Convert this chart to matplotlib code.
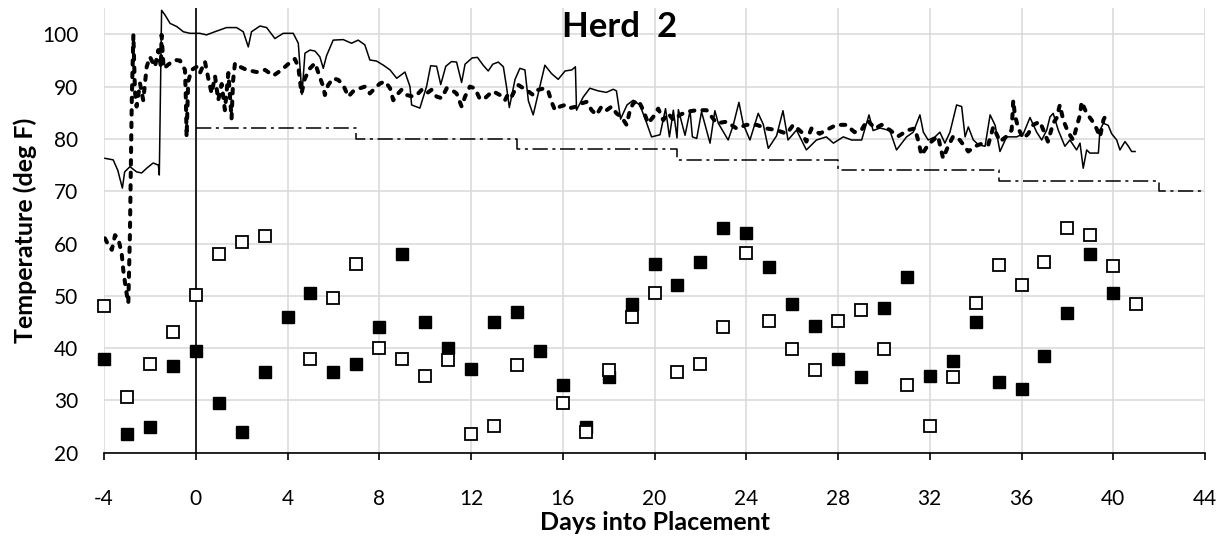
import matplotlib
matplotlib.use("Agg")
import matplotlib.pyplot as plt

# barn temperature logger (solid) and second logger (dashed), deg F
air_days = [-3.96, -3.6, -3.4, -3.2, -3.1, -2.87, -2.58, -2.36, -2.14, -1.86, -1.63, -1.59,
            -1.49, -1.34, -1.12, -0.83, -0.54, -0.25, 0.18, 0.47, 0.83, 1.34, 1.78, 2.07,
            2.29, 2.43, 2.8, 3.09, 3.45, 3.81, 4.25, 4.47, 4.63, 4.76, 4.98, 5.2, 5.41,
            5.56, 5.7, 5.99, 6.43, 6.79, 7.08, 7.37, 7.59, 7.88, 8.18, 8.47, 8.76, 9.12,
            9.34, 9.41, 9.77, 10.06, 10.24, 10.5, 10.68, 10.9, 11.15, 11.37, 11.59, 11.74,
            12.05, 12.28, 12.53, 12.75, 12.95, 13.19, 13.41, 13.55, 13.67, 13.92, 14.13,
            14.35, 14.5, 14.71, 14.93, 15.22, 15.51, 15.8, 16.1, 16.39, 16.55, 16.6, 16.89,
            17.18, 17.54, 17.9, 18.2, 18.34, 18.52, 18.8, 19.07, 19.36, 19.62, 19.87,
            20.24, 20.48, 20.65, 20.82, 20.98, 21.04, 21.33, 21.55, 21.65, 21.84, 22.05,
            22.42, 22.63, 22.78, 23.21, 23.43, 23.68, 23.87, 24.16, 24.52, 24.74, 24.96,
            25.32, 25.6, 25.82, 26.19, 26.62, 27.06, 27.49, 27.8, 28.23, 28.59, 29.03,
            29.35, 29.53, 29.83, 30.26, 30.55, 30.99, 31.28, 31.57, 31.72, 31.93, 32.23,
            32.44, 32.66, 32.88, 33.17, 33.39, 33.54, 33.68, 33.9, 34.12, 34.41, 34.63,
            34.85, 35.06, 35.35, 35.79, 36.08, 36.37, 36.66, 36.88, 37.1, 37.24, 37.38,
            37.6, 37.89, 38.11, 38.4, 38.55, 38.69, 38.84, 38.98, 39.35, 39.42, 39.57,
            39.78, 39.93, 40.15, 40.29, 40.51, 40.66, 40.8, 40.95]
air_temp = [76.3, 76.0, 74.0, 70.6, 73.7, 74.7, 73.7, 73.5, 74.4, 75.4, 75.0, 73.1,
            104.6, 103.7, 102.1, 101.5, 100.5, 100.2, 100.2, 99.9, 100.5, 101.3, 101.3, 100.5,
            97.6, 100.5, 101.6, 101.3, 99.2, 100.2, 100.2, 98.3, 88.5, 96.4, 97.0, 96.8, 95.7,
            93.5, 95.9, 98.9, 99.0, 98.3, 98.9, 98.0, 95.1, 94.9, 94.1, 93.2, 91.6, 92.8,
            90.0, 86.5, 85.9, 90.0, 94.0, 93.9, 90.4, 93.9, 94.8, 94.7, 90.8, 94.3,
            95.5, 95.6, 94.1, 93.0, 94.3, 94.7, 93.8, 89.9, 86.0, 91.4, 93.5,
            93.2, 87.3, 84.6, 88.7, 94.1, 92.5, 91.4, 93.0, 93.2, 93.8, 85.5, 88.0,
            89.7, 89.2, 88.9, 89.5, 89.2, 83.8, 86.5, 87.4, 86.5, 83.5, 80.4,
            80.8, 85.8, 80.4, 85.5, 80.2, 85.6, 80.7, 85.4, 80.4, 80.1, 85.2,
            79.2, 85.4, 83.0, 79.8, 82.6, 87.0, 82.8, 79.8, 84.9, 82.8, 78.2,
            80.6, 85.4, 79.8, 81.7, 77.9, 79.8, 80.4, 79.2, 80.4, 79.8, 79.8,
            84.6, 81.6, 82.1, 81.6, 77.9, 80.4, 81.3, 84.6, 81.3, 79.8, 80.4,
            81.3, 79.2, 81.3, 86.5, 86.2, 80.4, 82.3, 79.8, 78.9, 78.6, 84.6,
            82.6, 77.6, 80.4, 80.4, 81.0, 84.1, 81.3, 79.8, 81.7, 84.2, 84.9,
            81.7, 78.6, 79.8, 77.9, 79.2, 74.4, 77.9, 77.3, 77.3, 81.7, 83.0,
            82.6, 81.0, 79.8, 77.9, 79.5, 78.6, 77.6, 77.6]

pen_days = [-3.96, -3.81, -3.66, -3.52, -3.38, -3.23, -3.16, -3.04, -2.94, -2.87, -2.79, -2.72,
            -2.65, -2.58, -2.43, -2.29, -2.14, -2.0, -1.78, -1.63, -1.52, -1.49, -1.4, -1.12,
            -0.9, -0.69, -0.54, -0.47, -0.43, -0.4, -0.33, -0.18, 0.04, 0.18, 0.4, 0.55,
            0.69, 0.84, 0.98, 1.13, 1.27, 1.42, 1.56, 1.63, 1.71, 1.93, 2.22, 2.65, 3.02,
            3.38, 3.74, 4.1, 4.32, 4.47, 4.61, 4.76, 4.98, 5.2, 5.41, 5.56, 5.63, 5.77,
            5.99, 6.21, 6.43, 6.65, 6.86, 7.16, 7.37, 7.59, 7.81, 8.03, 8.25, 8.47, 8.61,
            8.76, 8.97, 9.19, 9.48, 9.63, 9.85, 10.06, 10.28, 10.5, 10.72, 10.94, 11.15,
            11.37, 11.59, 11.74, 11.95, 12.17, 12.39, 12.61, 12.83, 12.97, 13.26, 13.48,
            13.63, 13.77, 13.92, 14.07, 14.28, 14.5, 14.71, 14.93, 15.22, 15.37, 15.51,
            15.66, 15.88, 16.1, 16.31, 16.6, 16.82, 17.04, 17.26, 17.47, 17.69, 17.91,
            18.13, 18.34, 18.56, 18.78, 18.93, 19.07, 19.29, 19.51, 19.72, 19.94, 20.16,
            20.38, 20.6, 20.82, 21.11, 21.4, 21.84, 22.27, 22.71, 23.14, 23.58, 24.01,
            24.45, 24.89, 25.32, 25.76, 26.05, 26.41, 26.62, 26.84, 27.2, 27.49, 27.93,
            28.36, 28.72, 29.02, 29.28, 29.61, 29.9, 30.26, 30.62, 31.06, 31.35, 31.49,
            31.64, 31.93, 32.15, 32.36, 32.58, 32.8, 33.02, 33.31, 33.68, 33.97, 34.33,
            34.55, 34.77, 35.06, 35.35, 35.57, 35.64, 35.71, 35.86, 36.08, 36.29, 36.51,
            36.8, 37.02, 37.15, 37.38, 37.53, 37.67, 37.82, 38.03, 38.25, 38.4, 38.55,
            38.62, 38.84, 39.06, 39.27, 39.42, 39.57, 39.71]
pen_temp = [61.0, 59.7, 58.8, 61.6, 61.0, 58.1, 54.9, 51.1, 48.6, 62.0, 87.4, 99.9,
            89.0, 86.2, 90.6, 87.4, 93.8, 95.7, 93.8, 97.0, 93.8, 99.9, 93.5, 94.5,
            95.1, 95.0, 93.8, 93.2, 87.4, 80.4, 91.0, 93.2, 93.8, 92.6, 94.8, 91.5,
            88.7, 92.0, 87.4, 90.5, 85.5, 92.6, 83.9, 91.3, 94.5, 93.8, 93.2, 92.8, 93.2,
            92.1, 93.2, 94.6, 95.3, 93.8, 88.7, 91.6, 93.5, 94.5, 91.8, 90.0, 88.4, 90.3,
            91.6, 91.3, 90.3, 88.1, 89.1, 89.7, 90.0, 88.7, 89.7, 90.6, 91.0, 89.7, 87.4,
            88.4, 89.4, 88.4, 88.1, 88.4, 89.4, 88.7, 89.4, 88.1, 87.8, 89.7, 89.4,
            88.7, 86.2, 88.1, 90.0, 89.7, 87.6, 87.8, 88.7, 89.1, 88.4, 87.4,
            88.7, 88.1, 89.4, 90.3, 89.7, 89.1, 88.4, 89.4, 89.7, 89.1, 87.1,
            85.5, 86.2, 86.5, 85.9, 86.2, 86.8, 87.1, 85.5, 84.6, 86.2, 85.5,
            86.2, 84.9, 84.2, 82.7, 85.5, 86.8, 87.4, 85.5, 83.0, 84.2, 85.8,
            83.6, 84.9, 83.6, 84.6, 85.2, 85.5, 85.5, 83.0, 83.3, 82.0, 82.7,
            82.7, 82.0, 81.7, 81.0, 82.7, 81.3, 79.5, 82.0, 81.0, 81.7, 82.7,
            82.7, 81.3, 81.7, 83.6, 82.0, 82.7, 81.7, 80.5, 81.7, 82.0, 79.8,
            76.9, 78.9, 79.8, 80.5, 76.3, 78.6, 80.5, 79.8, 77.6, 78.6, 79.2,
            78.9, 82.3, 79.5, 80.5, 81.7, 87.4, 84.6, 82.0, 80.1, 81.0, 82.7,
            83.3, 81.0, 79.5, 83.0, 84.0, 86.5, 83.6, 81.3, 79.8, 82.3, 84.6,
            87.1, 84.9, 83.6, 82.0, 80.4, 83.6, 84.9]

# thermostat set point, stepped down weekly
setpoint_days = [0, 7, 14, 21, 28, 35, 42, 44]
setpoint_temp = [82, 80, 78, 76, 74, 72, 70, 70]

# daily outside temperatures
high_days = list(range(-4, 41))
high_temp = [38, 23.5, 25, 36.5, 39.5, 29.5, 24, 35.5, 46, 50.5, 35.5, 37, 44, 58, 45,
             40, 36, 45, 47, 39.5, 33, 25, 34.5, 48.5, 56, 52, 56.5, 63, 62, 55.5, 48.5,
             44.2, 38, 34.5, 47.6, 53.6, 34.6, 37.6, 45, 33.5, 32.2, 38.5, 46.8, 58, 50.6]
low_days = [-4, -3, -2, -1, 0, 1, 2, 3, 5, 6, 7, 8, 9, 10, 11, 12, 13, 14, 16, 17, 18,
            19, 20, 21, 22, 23, 24, 25, 26, 27, 28, 29, 30, 31, 32, 33, 34, 35, 36, 37,
            38, 39, 40, 41]
low_temp = [48, 30.6, 37, 43, 50.1, 58, 60.2, 61.5, 38, 49.6, 56, 40, 38, 34.7, 37.7,
            23.5, 25.2, 36.8, 29.6, 24, 35.8, 45.9, 50.6, 35.4, 36.9, 44.1, 58.1, 45.2,
            39.8, 35.9, 45.2, 47.2, 39.8, 32.9, 25.2, 34.4, 48.7, 55.9, 52.1, 56.4, 63,
            61.7, 55.7, 48.4]

plt.rcParams["font.family"] = ["Lato", "DejaVu Sans"]
plt.rcParams["axes.unicode_minus"] = False

fig = plt.figure(figsize=(12.31, 5.41), dpi=100)
ax = fig.add_axes([0.0845, 0.1632, 0.8944, 0.8216])

ax.plot(air_days, air_temp, color="black", lw=1.1, zorder=2)
ax.plot(pen_days, pen_temp, color="black", lw=2.9, linestyle=(0, (1.1, 2.0)),
        dash_capstyle="round", zorder=2)
ax.step(setpoint_days, setpoint_temp, where="post", color="black", lw=1.1,
        linestyle=(0, (10, 3, 2, 3)), zorder=2)
ax.axvline(0, color="black", lw=1.2, zorder=2.5)

ax.plot(high_days, high_temp, linestyle="none", marker="s", ms=8.6,
        mfc="black", mec="black", zorder=3, clip_on=False)
ax.plot(low_days, low_temp, linestyle="none", marker="s", ms=8.0,
        mfc="white", mec="black", mew=1.3, zorder=4, clip_on=False)

ax.set_xlim(-4, 44)
ax.set_ylim(20, 105)
ax.set_xticks(range(-4, 45, 4))
ax.set_yticks(range(20, 101, 10))
ax.grid(True, color="#d9d9d9", lw=1.1)
ax.set_axisbelow(True)

for side in ["top", "right", "left"]:
    ax.spines[side].set_visible(False)
ax.spines["bottom"].set_linewidth(1.2)

ax.tick_params(axis="x", direction="out", length=5, width=1.2, pad=21, labelsize=15)
ax.tick_params(axis="y", length=0, pad=18.5, labelsize=15)

ax.set_xlabel("Days into Placement", fontsize=18, fontweight="bold")
ax.xaxis.set_label_coords(0.5, -0.132)
ax.set_ylabel("Temperature (deg F)", fontsize=18, fontweight="bold")
ax.yaxis.set_label_coords(-0.061, 0.5)

fig.text(620 / 1231, 1 - 37 / 541, "Herd  2", ha="center", va="baseline",
         fontsize=25, fontweight="bold")

fig.savefig("out.png", dpi=100)
